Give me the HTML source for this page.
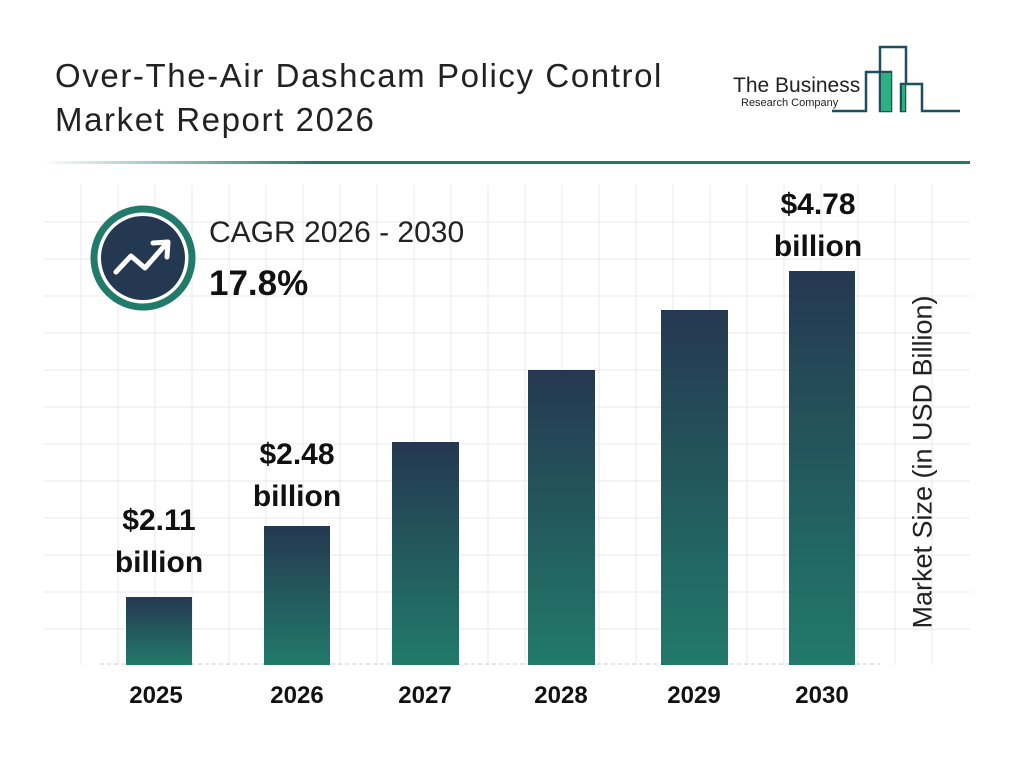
<!DOCTYPE html>
<html><head><style>
body{margin:0;width:1024px;height:768px;background:#fff;font-family:"Liberation Sans",Arial,sans-serif;position:relative;overflow:hidden}
.t{position:absolute;color:#222}
.lbl{position:absolute;font-weight:bold;font-size:30px;text-align:center;width:160px;line-height:42px;color:#111}
.yr{position:absolute;font-weight:bold;font-size:24px;width:100px;text-align:center;top:682px;color:#111}
</style></head><body>
<svg width="1024" height="768" style="position:absolute;left:0;top:0">
<defs>
<linearGradient id="g" x1="0" y1="0" x2="0" y2="1"><stop offset="0" stop-color="#253851"/><stop offset="1" stop-color="#217a6a"/></linearGradient>
<linearGradient id="hl" x1="0" y1="0" x2="1" y2="0"><stop offset="0" stop-color="#217a6a" stop-opacity="0"/><stop offset="0.3" stop-color="#217a6a"/><stop offset="1" stop-color="#217a6a"/></linearGradient>
</defs>
<rect x="40" y="161" width="930" height="3" fill="url(#hl)"/>
<g stroke="#e8e8e8" stroke-width="1">
<line x1="81" y1="185" x2="81" y2="665"/><line x1="118" y1="185" x2="118" y2="665"/><line x1="155" y1="185" x2="155" y2="665"/><line x1="192" y1="185" x2="192" y2="665"/><line x1="229" y1="185" x2="229" y2="665"/><line x1="266" y1="185" x2="266" y2="665"/><line x1="303" y1="185" x2="303" y2="665"/><line x1="340" y1="185" x2="340" y2="665"/><line x1="377" y1="185" x2="377" y2="665"/><line x1="414" y1="185" x2="414" y2="665"/><line x1="451" y1="185" x2="451" y2="665"/><line x1="488" y1="185" x2="488" y2="665"/><line x1="525" y1="185" x2="525" y2="665"/><line x1="562" y1="185" x2="562" y2="665"/><line x1="599" y1="185" x2="599" y2="665"/><line x1="636" y1="185" x2="636" y2="665"/><line x1="673" y1="185" x2="673" y2="665"/><line x1="710" y1="185" x2="710" y2="665"/><line x1="747" y1="185" x2="747" y2="665"/><line x1="784" y1="185" x2="784" y2="665"/><line x1="821" y1="185" x2="821" y2="665"/><line x1="858" y1="185" x2="858" y2="665"/><line x1="895" y1="185" x2="895" y2="665"/><line x1="932" y1="185" x2="932" y2="665"/>
<line x1="44" y1="222" x2="970" y2="222"/><line x1="44" y1="259" x2="970" y2="259"/><line x1="44" y1="296" x2="970" y2="296"/><line x1="44" y1="333" x2="970" y2="333"/><line x1="44" y1="370" x2="970" y2="370"/><line x1="44" y1="407" x2="970" y2="407"/><line x1="44" y1="444" x2="970" y2="444"/><line x1="44" y1="481" x2="970" y2="481"/><line x1="44" y1="518" x2="970" y2="518"/><line x1="44" y1="555" x2="970" y2="555"/><line x1="44" y1="592" x2="970" y2="592"/><line x1="44" y1="629" x2="970" y2="629"/>
</g>
<line x1="100" y1="664" x2="880" y2="664" stroke="#ccc" stroke-dasharray="4,3"/>
<rect x="126" y="597" width="66" height="68" fill="url(#g)"/>
<rect x="264" y="526" width="66" height="139" fill="url(#g)"/>
<rect x="392" y="442" width="67" height="223" fill="url(#g)"/>
<rect x="528" y="370" width="67" height="295" fill="url(#g)"/>
<rect x="661" y="310" width="67" height="355" fill="url(#g)"/>
<rect x="789" y="271" width="66" height="394" fill="url(#g)"/>
<circle cx="143" cy="258" r="49" fill="#fff" stroke="#217a6a" stroke-width="7"/>
<circle cx="143" cy="258" r="42" fill="#253851"/>
<polyline points="116,272 131,256 145,268 166,244" fill="none" stroke="#fff" stroke-width="5" stroke-linecap="round" stroke-linejoin="round"/>
<polyline points="153,243 168,242 167,257" fill="none" stroke="#fff" stroke-width="5" stroke-linecap="round" stroke-linejoin="round"/>
<g fill="none" stroke="#1f4e5f" stroke-width="2.5">
<polyline points="832,111 866,111 866,72 880,72 880,47 906,47 906,84 922,84 922,111 960,111"/>
<rect x="880" y="72" width="11" height="39"/>
<rect x="901" y="84" width="4" height="27"/>
</g>
<rect x="881" y="73" width="10" height="38" fill="#2bb07f"/>
<rect x="902" y="85" width="3" height="26" fill="#2bb07f"/>
</svg>
<div class="t" style="left:55px;top:54px;font-size:33px;line-height:44px;letter-spacing:1.6px">Over-The-Air Dashcam Policy Control<br>Market Report 2026</div>
<div class="t" style="left:733px;top:74px;font-size:21px">The Business</div>
<div class="t" style="left:741px;top:97px;font-size:11px">Research Company</div>
<div class="t" style="left:209px;top:216px;font-size:30px">CAGR 2026 - 2030</div>
<div class="t" style="left:209px;top:264px;font-size:35px;font-weight:bold;color:#111">17.8%</div>
<div class="lbl" style="left:79px;top:500px">$2.11<br>billion</div>
<div class="lbl" style="left:217px;top:434px">$2.48<br>billion</div>
<div class="lbl" style="left:738px;top:184px">$4.78<br>billion</div>
<div class="yr" style="left:106px">2025</div>
<div class="yr" style="left:247px">2026</div>
<div class="yr" style="left:375px">2027</div>
<div class="yr" style="left:511px">2028</div>
<div class="yr" style="left:644px">2029</div>
<div class="yr" style="left:772px">2030</div>
<div class="t" style="left:923px;top:462px;font-size:27px;white-space:nowrap;transform:translate(-50%,-50%) rotate(-90deg);transform-origin:center;">Market Size (in USD Billion)</div>
</body></html>
